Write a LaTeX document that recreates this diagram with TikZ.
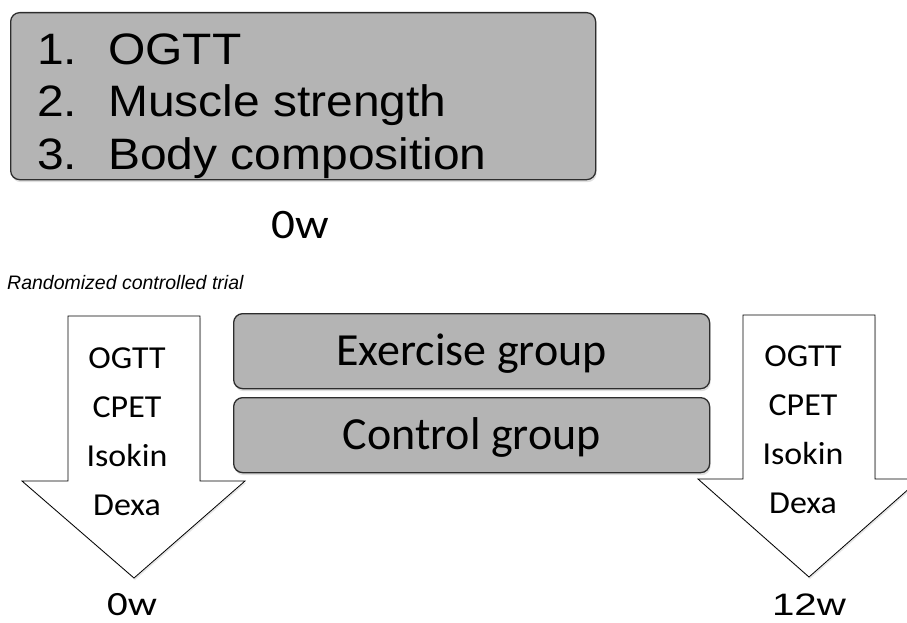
\documentclass[tikz,border=0pt]{standalone}
\usepackage{fontspec}
\setmainfont{Liberation Sans}
\newfontfamily\calib{Carlito}
\usepackage{graphicx}
\definecolor{boxGray}{RGB}{180,180,180}
\definecolor{edgeGray}{RGB}{45,45,45}
\usetikzlibrary{positioning,shadows}
\newcommand{\wider}[2]{\scalebox{#1}[1]{#2}}
\tikzset{
  graybox/.style={rectangle,draw=edgeGray,fill=boxGray,line width=1.3pt,
    rounded corners=9pt,anchor=north west,
    drop shadow={opacity=0.25,shadow xshift=1pt,shadow yshift=-2.5pt}},
  listtext/.style={anchor=base west,inner sep=0pt,
    font=\fontsize{44}{50}\selectfont},
  grouptext/.style={inner sep=0pt,font=\calib\fontsize{46}{52}\selectfont},
  blockarrow/.style={draw=black,fill=white,line width=0.8pt,line join=miter,
    drop shadow={opacity=0.2,shadow xshift=1pt,shadow yshift=-2pt}},
  testtext/.style={anchor=base,inner sep=0pt,font=\calib\fontsize{32}{36}\selectfont},
  weektext/.style={anchor=base,inner sep=0pt}
}

\begin{document}
\begin{tikzpicture}[x=1pt,y=-1pt]
  \useasboundingbox (0,0) rectangle (907,623);

  % baseline tests
  \node[graybox,minimum width=585pt,minimum height=167pt] (tests) at (10,12) {};
  \node[listtext] (n1) at (37,65) {\wider{1.09}{1.}};
  \node[listtext] (n2) at (37,117) {\wider{1.09}{2.}};
  \node[listtext] (n3) at (37,169) {\wider{1.09}{3.}};
  \node[listtext] (t1) at (108,65) {\wider{1.09}{OGTT}};
  \node[listtext] (t2) at (108,117) {\wider{1.09}{Muscle strength}};
  \node[listtext] (t3) at (108,169) {\wider{1.09}{Body composition}};
  \node[weektext,font=\calib\fontsize{42}{46}\selectfont] (w0top) at (300,238) {\wider{1.12}{0w}};

  \node[anchor=base west,inner sep=0pt,font=\itshape\fontsize{19.5}{24}\selectfont]
    (rct) at (7,289) {Randomized controlled trial};

  % groups
  \node[graybox,minimum width=476pt,minimum height=75pt] (exer) at (233,313) {};
  \node[graybox,minimum width=476pt,minimum height=75pt] (ctrl) at (233,397) {};
  \node[grouptext,yshift=-2pt] at (exer.center) {Exercise group};
  \node[grouptext,yshift=-2pt] at (ctrl.center) {Control group};

  % measurement arrows
  \draw[blockarrow] (68,316) -- (200,316) -- (200,481) -- (245,481) -- (134,578)
    -- (22,481) -- (68,481) -- cycle;
  \draw[blockarrow] (743,315) -- (875,315) -- (875,479) -- (920,479) -- (809,577)
    -- (698,479) -- (743,479) -- cycle;
  \foreach \t [count=\i] in {OGTT,CPET,Isokin,Dexa}{
    \node[testtext] (pre\i) at (127,{368+49*(\i-1)}) {\wider{1.06}{\t}};
    \node[testtext] (post\i) at (803,{366+49*(\i-1)}) {\wider{1.06}{\t}};
  }
  \node[weektext,font=\calib\fontsize{34}{38}\selectfont] (w0) at (132,615) {\wider{1.2}{0w}};
  \node[weektext,font=\fontsize{31}{36}\selectfont] (w12) at (809,615) {\wider{1.3}{12w}};
\end{tikzpicture}
\end{document}
